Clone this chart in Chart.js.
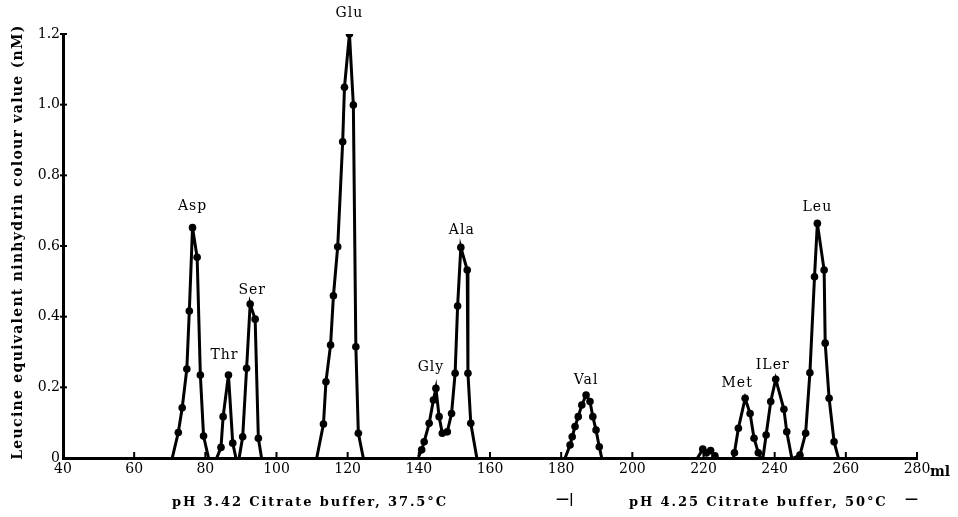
<!DOCTYPE html>
<html><head><meta charset="utf-8">
<script src="https://cdn.jsdelivr.net/npm/chart.js@4"></script>
<style>html,body{margin:0;padding:0;background:#fff}#wrap{width:958px;height:517px;position:relative}</style>
</head><body><div id="wrap"><canvas id="c" width="958" height="517"></canvas></div>
<script>
// ---- data (ml of effluent, leucine-equivalent value) ----
const aspMl  = [70.7, 72.4, 73.5, 74.8, 75.5, 76.4, 77.7, 78.6, 79.5, 80.9];
const aspVal = [0, 0.072, 0.142, 0.252, 0.416, 0.652, 0.568, 0.235, 0.062, 0];
const thrMl  = [83.2, 84.4, 85.0, 86.5, 87.7, 88.6];
const thrVal = [0, 0.03, 0.117, 0.235, 0.042, 0];
const serMl  = [89.5, 90.5, 91.6, 92.6, 94.0, 94.9, 95.8];
const serVal = [0, 0.06, 0.254, 0.436, 0.393, 0.056, 0];
const gluMl  = [111.3, 113.2, 113.9, 115.2, 116.0, 117.2, 118.6, 119.1, 120.5, 121.6, 122.3, 123.0, 124.4];
const gluVal = [0, 0.096, 0.216, 0.32, 0.459, 0.598, 0.895, 1.049, 1.2, 0.999, 0.315, 0.07, 0];
const glyAlaMl  = [139.9, 140.8, 141.5, 142.9, 144.1, 144.8, 145.7, 146.6, 148.0, 149.2, 150.2, 150.9, 151.8, 153.6, 153.8, 154.6, 156.3];
const glyAlaVal = [0.003, 0.023, 0.046, 0.098, 0.164, 0.197, 0.117, 0.07, 0.074, 0.126, 0.24, 0.43, 0.596, 0.532, 0.24, 0.098, 0];
const valMl  = [181.1, 182.5, 183.1, 183.9, 184.8, 185.8, 187.0, 188.1, 188.9, 189.8, 190.7, 191.4];
const valVal = [0, 0.037, 0.06, 0.089, 0.117, 0.15, 0.178, 0.16, 0.117, 0.079, 0.032, 0];
const smallMl  = [218.3, 219.8, 220.8, 222.0, 223.2, 224.0];
const smallVal = [0, 0.025, 0.014, 0.021, 0.006, 0];
const metMl  = [228.4, 228.7, 229.8, 231.7, 233.1, 234.2, 235.4, 236.1];
const metVal = [0, 0.015, 0.084, 0.169, 0.126, 0.056, 0.015, 0];
const ileMl  = [236.7, 237.6, 238.9, 240.3, 242.6, 243.4, 244.8];
const ileVal = [0, 0.065, 0.16, 0.223, 0.138, 0.074, 0];
const leuMl  = [245.3, 247.1, 248.7, 249.9, 251.2, 252.0, 253.9, 254.2, 255.3, 256.7, 257.9];
const leuVal = [0, 0.008, 0.07, 0.241, 0.513, 0.664, 0.532, 0.325, 0.169, 0.046, 0];
const xTickValues = [40, 60, 80, 100, 120, 140, 160, 180, 200, 220, 240, 260, 280];
const yTickValues = [0, 0.2, 0.4, 0.6, 0.8, 1.0, 1.2];
const yTitle = 'Leucine equivalent ninhydrin colour value (nM)';
const bufferA = 'pH 3.42 Citrate buffer, 37.5°C';
const bufferB = 'pH 4.25 Citrate buffer, 50°C';

const series = [
  {ml: aspMl, v: aspVal, labels: [['Asp', 0, -21]]},
  {ml: thrMl, v: thrVal, labels: [['Thr', -4, -20]]},
  {ml: serMl, v: serVal, labels: [['Ser', 2, -14]]},
  {ml: gluMl, v: gluVal, labels: [['Glu', 0, -21]]},
  {ml: glyAlaMl, v: glyAlaVal, labels: [['Gly', -5, -21, 5], ['Ala', 1, -17, 12]]},
  {ml: valMl, v: valVal, labels: [['Val', 0, -15]]},
  {ml: smallMl, v: smallVal, labels: []},
  {ml: metMl, v: metVal, labels: [['Met', -8, -15]]},
  {ml: ileMl, v: ileVal, labels: [['ILer', -3, -14]]},
  {ml: leuMl, v: leuVal, labels: [['Leu', 0, -16]]},
];

const SERIF = '"DejaVu Serif", "Liberation Serif", serif';

const datasets = series.map(s => ({
  data: s.ml.map((x, i) => ({x: x, y: s.v[i]})),
  showLine: true,
  borderColor: '#000',
  backgroundColor: '#000',
  borderWidth: 3,
  tension: 0,
  pointRadius: s.v.map(v => v <= 0.004 ? 0 : 3.8),
  pointBorderWidth: 0,
}));

function spaced(ctx, text, x, y, spacing) {
  ctx.letterSpacing = spacing + 'px';
  ctx.fillText(text, x, y);
  ctx.letterSpacing = '0px';
}

const decor = {
  id: 'decor',
  afterDatasetsDraw(chart) {
    const ctx = chart.ctx, xs = chart.scales.x, ys = chart.scales.y;
    ctx.save();
    ctx.fillStyle = '#000';
    // peak labels anchored to each peak's data point
    ctx.font = '14px ' + SERIF;
    ctx.textAlign = 'center';
    ctx.textBaseline = 'middle';
    series.forEach(s => {
      s.labels.forEach(l => {
        let idx;
        if (l.length > 3) idx = l[3];
        else { idx = s.v.indexOf(Math.max(...s.v)); }
        const px = xs.getPixelForValue(s.ml[idx]) + l[1];
        const py = ys.getPixelForValue(s.v[idx]) + l[2];
        spaced(ctx, l[0], px, py, 1);
      });
    });
    // inward tick marks
    ctx.strokeStyle = '#000';
    ctx.lineWidth = 2;
    xTickValues.forEach(t => {
      if (t === 40) return;
      const px = xs.getPixelForValue(t);
      ctx.beginPath();
      ctx.moveTo(px, ys.bottom);
      ctx.lineTo(px, ys.bottom - 6);
      ctx.stroke();
    });
    yTickValues.forEach(t => {
      if (t === 0) return;
      const py = ys.getPixelForValue(t);
      ctx.beginPath();
      ctx.moveTo(xs.left - 3, py);
      ctx.lineTo(xs.left + 4, py);
      ctx.stroke();
    });
    // y axis title
    ctx.save();
    ctx.translate(18, (ys.top + ys.bottom) / 2 - 4);
    ctx.rotate(-Math.PI / 2);
    ctx.font = 'bold 14px ' + SERIF;
    ctx.textAlign = 'center';
    spaced(ctx, yTitle, 0, 0, 1.3);
    ctx.restore();
    // unit and buffer annotations
    ctx.textAlign = 'left';
    ctx.font = 'bold 14px ' + SERIF;
    ctx.fillText('ml', xs.right + 13, ys.bottom + 14);
    ctx.font = 'bold 13px ' + SERIF;
    spaced(ctx, bufferA, 172, 503, 1.9);
    ctx.fillText('—|', 556, 500);
    spaced(ctx, bufferB, 629, 503, 1.9);
    ctx.fillText('—', 905, 500);
    ctx.restore();
  }
};

new Chart(document.getElementById('c'), {
  type: 'scatter',
  data: {datasets},
  options: {
    responsive: false,
    animation: false,
    layout: {padding: {top: 34, right: 41, left: 0, bottom: 0}},
    plugins: {legend: {display: false}, tooltip: {enabled: false}},
    scales: {
      x: {
        type: 'linear', min: 40, max: 280,
        afterBuildTicks: sc => { sc.ticks = xTickValues.map(v => ({value: v})); },
        afterFit: sc => { sc.height = 59; },
        grid: {display: false, drawTicks: false},
        border: {display: true, color: '#000', width: 3},
        ticks: {color: '#000', font: {family: SERIF, size: 14}, padding: 3, maxRotation: 0,
                callback: v => String(v)}
      },
      y: {
        min: 0, max: 1.2,
        afterBuildTicks: sc => { sc.ticks = yTickValues.map(v => ({value: v})); },
        afterFit: sc => { sc.width = 63; },
        grid: {display: false, drawTicks: false},
        border: {display: true, color: '#000', width: 3},
        ticks: {color: '#000', font: {family: SERIF, size: 14}, padding: 3,
                callback: v => v === 0 ? '0' : Number(v).toFixed(1)}
      }
    }
  },
  plugins: [decor]
});
</script></body></html>
